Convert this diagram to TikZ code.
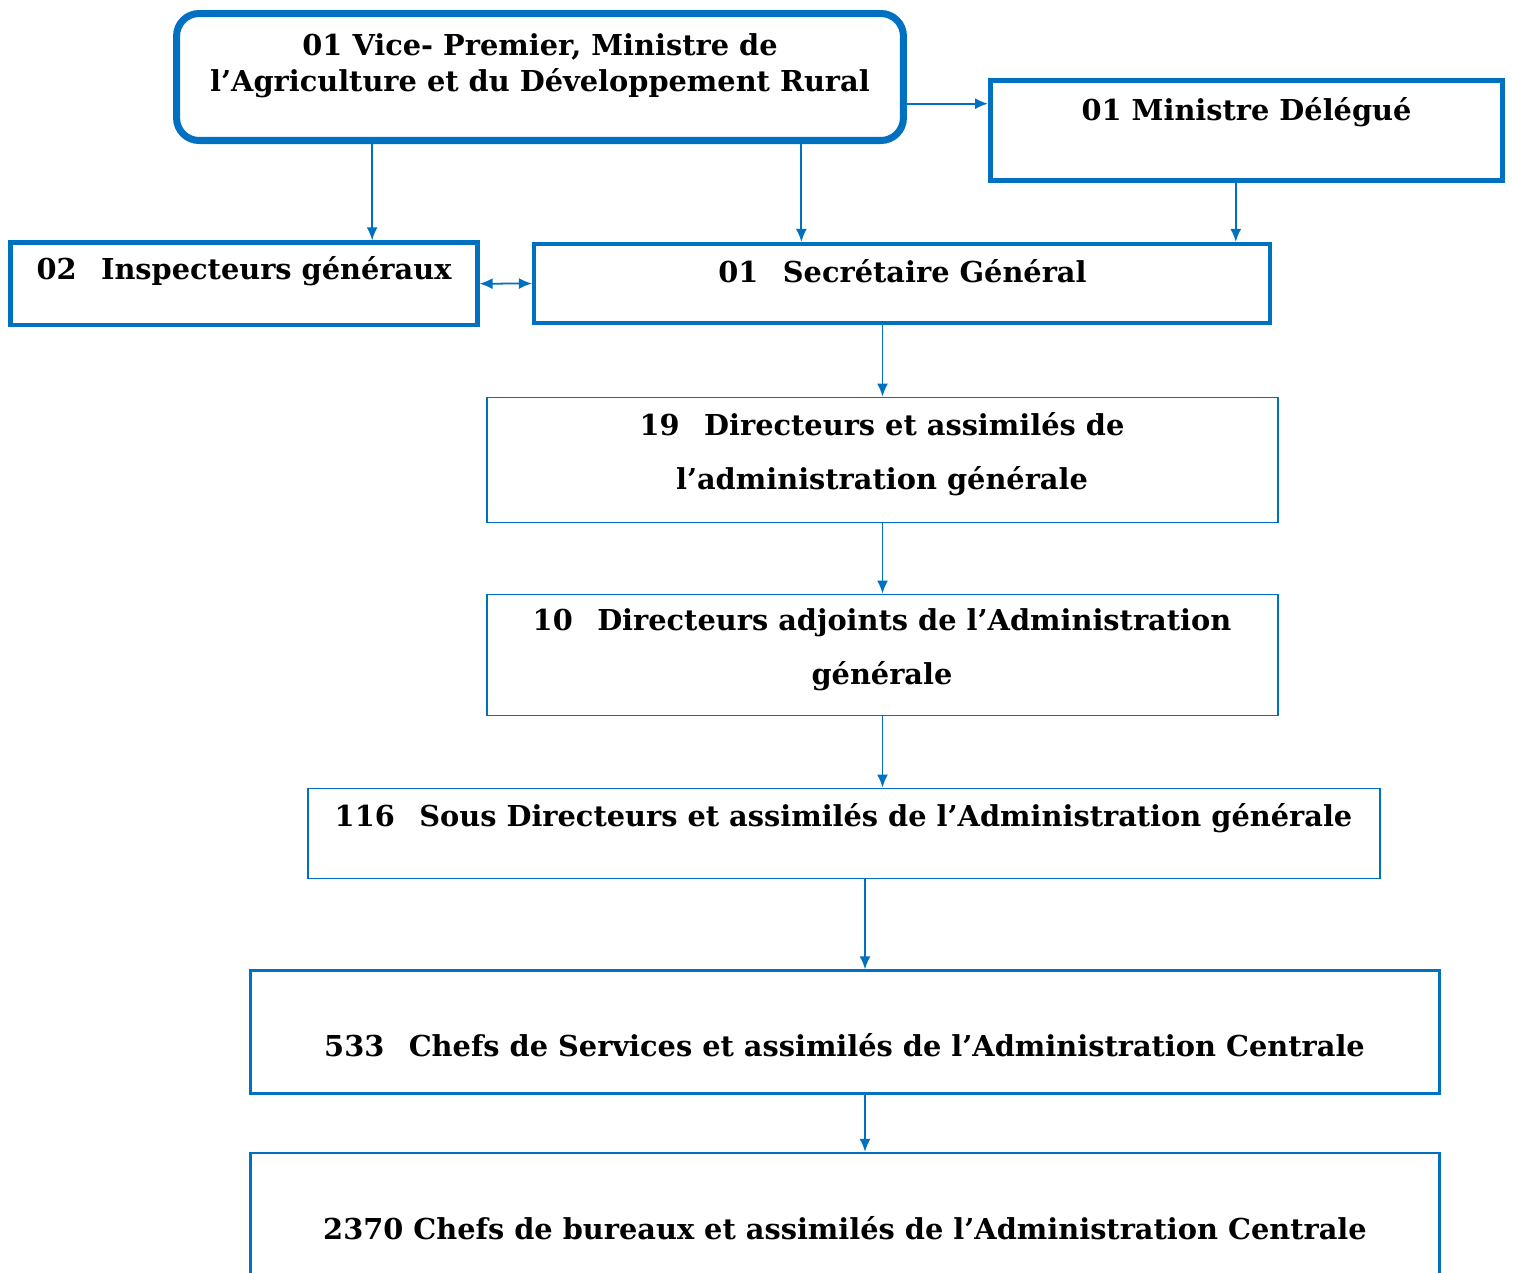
\documentclass[tikz,border=0pt]{standalone}
\usepackage{fontspec}
\setmainfont{DejaVu Serif}
\usepackage{tikz}
\usetikzlibrary{arrows.meta,calc}
\definecolor{orgblue}{RGB}{0,112,192}

\begin{document}
\begin{tikzpicture}[x=0.02cm, y=-0.02cm, >={Latex[length=2.6mm,width=2.2mm]},
  font=\fontsize{16.4pt}{20.5pt}\selectfont\bfseries,
  box/.style={draw=orgblue, line width=1.1pt, inner sep=0pt, fill=white},
  topbox/.style={box, line width=4pt, rounded corners=4.5mm},
  midbox/.style={box, line width=2.4pt},
  txt/.style={align=center, inner sep=0pt},
  link/.style={draw=orgblue, line width=1pt, ->}]
\clip (0,0) rectangle (1513,1272);
% boxes
\node[topbox, minimum width=14.54cm, minimum height=2.54cm] (vp) at (540,77) {};
\node[midbox, line width=2.9pt, minimum width=10.24cm, minimum height=2cm] (md) at (1246.5,130.5) {};
\node[midbox, minimum width=9.34cm, minimum height=1.65cm] (ig) at (244,283.7) {};
\node[midbox, minimum width=14.72cm, minimum height=1.58cm] (sg) at (902,283.5) {};
\node[box, minimum width=15.84cm, minimum height=2.5cm] (dir) at (882.5,460) {};
\node[box, minimum width=15.84cm, minimum height=2.42cm] (da) at (882.5,655) {};
\node[box, minimum width=21.46cm, minimum height=1.8cm] (sd) at (844,833.5) {};
\node[box, line width=1.4pt, minimum width=23.78cm, minimum height=2.46cm] (cs) at (845,1032) {};
\node[box, line width=1.4pt, minimum width=23.78cm, minimum height=2.94cm] (cb) at (845,1226.5) {};
% texts
\node[txt] (vp-t) at (540,66) {01 Vice- Premier, Ministre de\\ l’Agriculture et du Développement Rural};
\node[txt] (md-t) at (1246.5,112) {01 Ministre Délégué};
\node[txt] (ig-t) at (244,271) {02\enspace\ Inspecteurs généraux};
\node[txt] (sg-t) at (902.5,271) {01\enspace\ Secrétaire Général};
\node[txt] (dir-t) at (882,454) {19\enspace\ Directeurs et assimilés de\\[10pt] l’administration générale};
\node[txt] (da-t) at (882,650) {10\enspace\ Directeurs adjoints de l’Administration\\[10pt] générale};
\node[txt] (sd-t) at (843.5,818) {116\enspace\ Sous Directeurs et assimilés de l’Administration générale};
\node[txt] (cs-t) at (844.5,1045) {533\enspace\ Chefs de Services et assimilés de l’Administration Centrale};
\node[txt] (cb-t) at (845,1228) {2370 Chefs de bureaux et assimilés de l’Administration Centrale};
% entry points
\coordinate (igin) at ($(ig.north west)!0.772!(ig.north east)$);
\coordinate (sgin) at ($(sg.north west)!0.364!(sg.north east)$);
\coordinate (sgmd) at ($(sg.north west)!0.951!(sg.north east)$);
\coordinate (mdin) at ($(md.north west)!0.245!(md.south west)$);
\coordinate (csin) at ($(cs.north)+(20,0)$);
% links
\draw[link] (vp.south -| igin) -- (igin);
\draw[link] (vp.south -| sgin) -- (sgin);
\draw[link] (vp.east |- mdin) -- (mdin);
\draw[link] (md.south -| sgmd) -- (sgmd);
\draw[link, <->] (ig.east) -- (sg.west);
\draw[link] (sg.south -| dir.north) -- (dir.north);
\draw[link] (dir.south) -- (da.north);
\draw[link] (da.south) -- (sd.north -| da.south);
\draw[link] (sd.south -| csin) -- (csin);
\draw[link] (cs.south -| csin) -- (cb.north -| csin);
\end{tikzpicture}
\end{document}
